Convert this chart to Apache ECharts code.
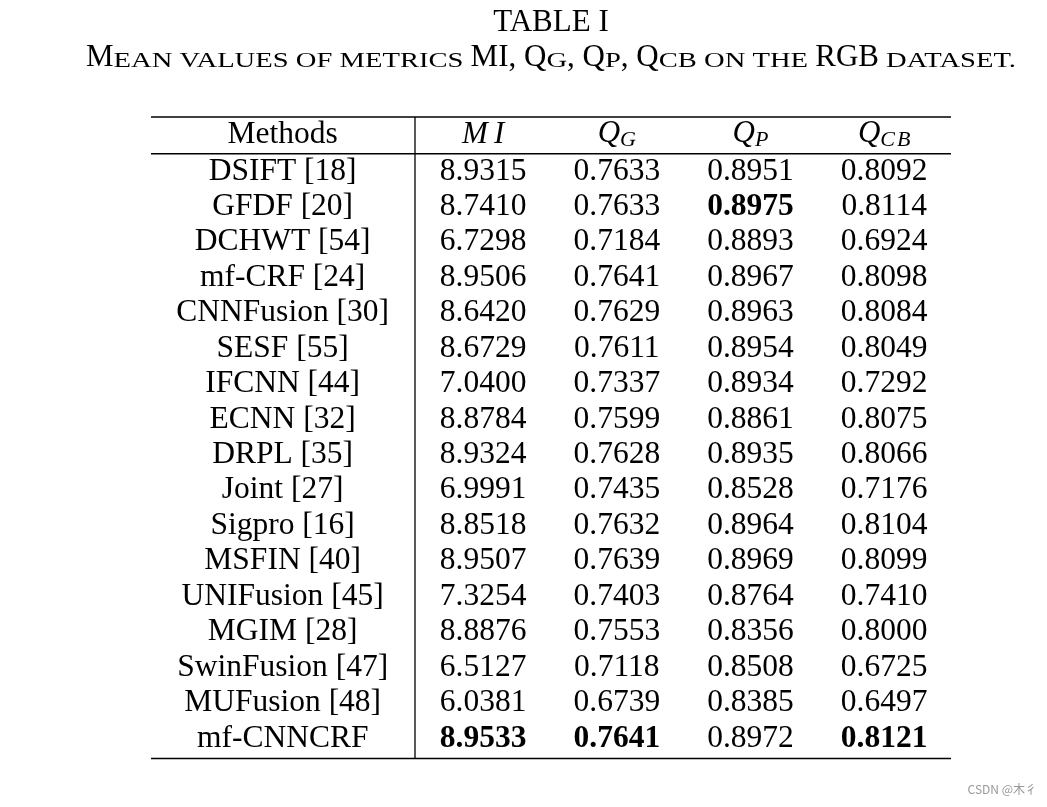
<!DOCTYPE html>
<html><head><meta charset="utf-8">
<script src="https://cdn.jsdelivr.net/npm/echarts@6/dist/echarts.min.js"></script>
<style>html,body{margin:0;padding:0;background:#fff;}#c{width:1047px;height:807px;}</style>
</head><body><div id="c"></div>
<script>
// ---------------- data ----------------
const methods = ['DSIFT [18]','GFDF [20]','DCHWT [54]','mf-CRF [24]','CNNFusion [30]','SESF [55]','IFCNN [44]','ECNN [32]','DRPL [35]','Joint [27]','Sigpro [16]','MSFIN [40]','UNIFusion [45]','MGIM [28]','SwinFusion [47]','MUFusion [48]','mf-CNNCRF'];
const miValues  = [8.9315,8.7410,6.7298,8.9506,8.6420,8.6729,7.0400,8.8784,8.9324,6.9991,8.8518,8.9507,7.3254,8.8876,6.5127,6.0381,8.9533];
const qgValues  = [0.7633,0.7633,0.7184,0.7641,0.7629,0.7611,0.7337,0.7599,0.7628,0.7435,0.7632,0.7639,0.7403,0.7553,0.7118,0.6739,0.7641];
const qpValues  = [0.8951,0.8975,0.8893,0.8967,0.8963,0.8954,0.8934,0.8861,0.8935,0.8528,0.8964,0.8969,0.8764,0.8356,0.8508,0.8385,0.8972];
const qcbValues = [0.8092,0.8114,0.6924,0.8098,0.8084,0.8049,0.7292,0.8075,0.8066,0.7176,0.8104,0.8099,0.7410,0.8000,0.6725,0.6497,0.8121];
const boldMI  = [16];
const boldQG  = [16];
const boldQP  = [1];
const boldQCB = [16];
const headerLabels = ['Methods','MI','QG','QP','QCB'];
const titleText = 'TABLE I';
const subtitleParts = [['M','big'],['ean values of metrics ','sc'],['MI, Q','big'],['g','sc'],[', Q','big'],['p','sc'],[', Q','big'],['cb','sc'],[' on the ','sc'],['RGB','big'],[' dataset.','sc']];
const watermark = 'CSDN @木彳';

// ---------------- layout ----------------
const SERIF = '"Liberation Serif","Times New Roman",serif';
const FS = 31.5;
const MID = 0.3375;
const BOLD_SHIFT = 0.5;
const colX = [1, 2.5, 3.5, 4.5, 5.5];
const mctx = document.createElement('canvas').getContext('2d');
function measure(t, fs, it, bd, fam){ mctx.font = (it?'italic ':'')+(bd?'bold ':'')+fs+'px '+(fam||SERIF); return mctx.measureText(t).width; }
function layoutTokens(tokens, cx, baseline){
  let total = 0;
  const ws = tokens.map(tk => { const w = measure(tk.t, tk.fs, tk.it, tk.bd)*(tk.sx||1) + (tk.gap||0); total += w; return w; });
  let x = cx - total/2;
  return tokens.map((tk,i) => {
    const el = { type:'text', x: x + (tk.gap||0), y: baseline + (tk.dy||0) - MID*tk.fs, scaleX: tk.sx||1,
      style: { text: tk.t, fontSize: tk.fs, fontFamily: SERIF, fontStyle: tk.it?'italic':'normal', fontWeight: tk.bd?'bold':'normal', fill:'#000', align:'left', verticalAlign:'middle' } };
    x += ws[i];
    return el;
  });
}
const headerTokens = {
  'Methods': [{t:'Methods', fs:FS}],
  'MI':  [{t:'M', fs:31, it:1},{t:'I', fs:31, it:1, gap:6}],
  'QG':  [{t:'Q', fs:31, it:1, dy:-1},{t:'G', fs:22, it:1, gap:0, dy:2}],
  'QP':  [{t:'Q', fs:31, it:1, dy:-1},{t:'P', fs:22, it:1, gap:0, dy:2}],
  'QCB': [{t:'Q', fs:31, it:1, dy:-1},{t:'C', fs:22, it:1, gap:0, dy:2},{t:'B', fs:22, it:1, gap:2, dy:2}]
};

// build cells
const valueCols = [miValues, qgValues, qpValues, qcbValues];
const boldCols = [boldMI, boldQG, boldQP, boldQCB];
const cells = [];
headerLabels.forEach((h,c) => cells.push({x: colX[c], y: 0.02, header: h}));
methods.forEach((m,r) => {
  cells.push({x: colX[0], y: r+1.05, text: m, bold: false});
  valueCols.forEach((arr,c) => cells.push({x: colX[c+1], y: r+1.05, text: arr[r].toFixed(4), bold: boldCols[c].indexOf(r) >= 0}));
});
const rules = [
  {x0:0.015, x1:6, y0:-0.48, y1:-0.48, w:1.7},
  {x0:0.015, x1:6, y0:0.56, y1:0.56, w:1.5},
  {x0:0.015, x1:6, y0:17.62, y1:17.62, w:1.7},
  {x0:1.99, x1:1.99, y0:-0.48, y1:17.62, w:1.3}
];

const chart = echarts.init(document.getElementById('c'), null, {renderer:'canvas'});

// subtitle tokens
const subTokens = subtitleParts.map(p => p[1]==='big' ? {t:p[0], fs:31} : {t:p[0].toUpperCase(), fs:22, sx:1.3});

chart.setOption({
  animation: false,
  backgroundColor: '#fff',
  grid: {left: 149, width: 802, top: 116.3, height: 641.5},
  xAxis: {type:'value', min:0, max:6, show:false},
  yAxis: {type:'value', min:-0.5, max:17.6, inverse:true, show:false},
  graphic: [
    {type:'text', x:551, y:33.5 - MID*31, style:{text:titleText, fontSize:31, fontFamily:SERIF, fill:'#000', align:'center', verticalAlign:'middle'}},
    {type:'group', children: layoutTokens(subTokens, 551, 68.5)},
    {type:'text', right: 10, top: 783, style:{text:watermark, fontSize:12, fontFamily:'"Noto Sans CJK SC","Noto Sans",sans-serif', fill:'#999'}}
  ],
  series: [
    {
      type:'custom', silent:true, clip:false,
      data: rules.map(r => [r.x0, r.y0, r.x1, r.y1, r.w]),
      renderItem: (params, api) => {
        const a = api.coord([api.value(0), api.value(1)]);
        const b = api.coord([api.value(2), api.value(3)]);
        return {type:'line', shape:{x1:a[0], y1:a[1], x2:b[0], y2:b[1]}, style:{stroke:'#000', lineWidth: api.value(4)}};
      }
    },
    {
      type:'custom', silent:true, clip:false,
      data: cells.map(c => [c.x, c.y]),
      renderItem: (params, api) => {
        const cell = cells[params.dataIndex];
        const p = api.coord([api.value(0), api.value(1)]);
        if (cell.header) {
          return {type:'group', children: layoutTokens(headerTokens[cell.header], p[0], p[1] + MID*FS)};
        }
        return {type:'text', x:p[0], y:p[1] + (cell.bold ? BOLD_SHIFT : 0), style:{text: cell.text, fontSize: FS, fontFamily: SERIF, fontWeight: cell.bold?'bold':'normal', fill:'#000', align:'center', verticalAlign:'middle'}};
      }
    }
  ]
});
</script>
</body></html>
